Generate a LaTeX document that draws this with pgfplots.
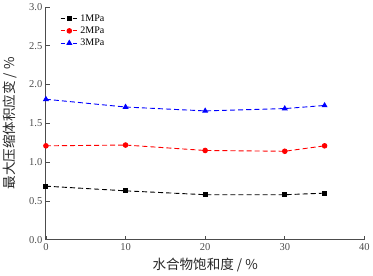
\documentclass[border=0pt]{standalone}
\usepackage{pgfplots}
\pgfplotsset{compat=1.18}
\usepackage{fontspec}
\setmainfont{Liberation Serif}
\newfontfamily\cjk{Noto Sans CJK SC}
\begin{document}
\begin{tikzpicture}
\begin{axis}[
  scale only axis,
  width=316bp, height=231bp,
  xmin=0, xmax=40, ymin=0, ymax=3.0,
  xtick={0,10,20,30,40}, ytick={0,0.5,1.0,1.5,2.0,2.5,3.0},
  yticklabel style={/pgf/number format/.cd,fixed,fixed zerofill,precision=1},
  /pgf/number format/assume math mode=true,
  axis x line*=bottom, axis y line*=left,
  axis line style={line width=0.9pt, gray!60!black},
  tick style={gray!60!black, line width=0.7pt, major tick length=4bp},
  tick align=inside,
  ticklabel style={font=\fontsize{10.5}{11}\selectfont, gray!60!black},
  xlabel={\cjk 水合物饱和度 / \%},
  ylabel={\cjk 最大压缩体积应变 / \%},
  label style={font=\fontsize{13.5}{14}\selectfont, black!85},
  ylabel style={yshift=5bp},
  xlabel style={yshift=-1bp},
  legend style={at={(0.035,0.985)}, anchor=north west, draw=none, fill=none, font=\fontsize{10}{11}\selectfont, row sep=0pt},
  legend cell align=left,
  legend image post style={dash pattern=on 4pt off 2pt},
]
\addplot[black, dash pattern=on 5pt off 3pt, line width=0.9pt, mark=square*, mark size=2pt, mark options={solid}] coordinates {(0,0.69) (10,0.63) (20,0.58) (30,0.58) (35,0.60)};
\addlegendentry{1MPa}
\addplot[red, dash pattern=on 5pt off 3pt, line width=0.9pt, mark=*, mark size=2.3pt, mark options={solid}] coordinates {(0,1.21) (10,1.22) (20,1.15) (30,1.14) (35,1.21)};
\addlegendentry{2MPa}
\addplot[blue, dash pattern=on 5pt off 3pt, line width=0.9pt, mark=triangle*, mark size=2.6pt, mark options={solid}] coordinates {(0,1.81) (10,1.71) (20,1.66) (30,1.69) (35,1.73)};
\addlegendentry{3MPa}
\end{axis}
\end{tikzpicture}
\end{document}
